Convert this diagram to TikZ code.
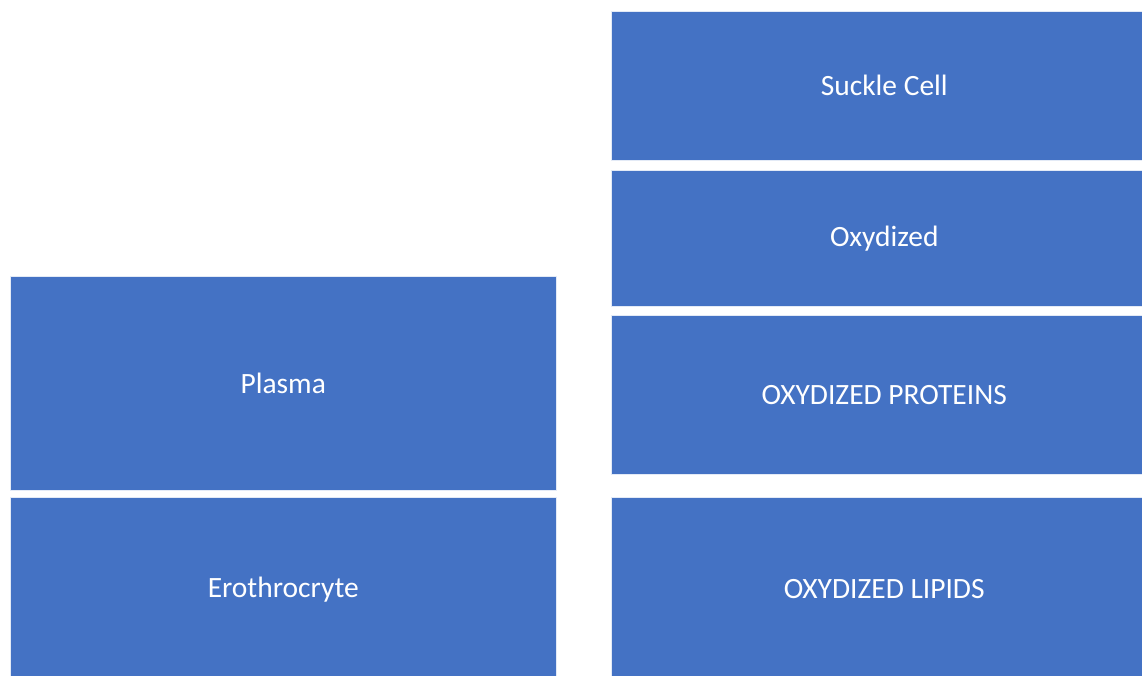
\documentclass[tikz,border=0pt]{standalone}
\usepackage{fontspec}
\setmainfont{Carlito}
\usepackage{xcolor}
\usepackage{tikz}
\usetikzlibrary{positioning}
\definecolor{boxblue}{HTML}{4472C4}

\begin{document}
\begin{tikzpicture}[
        x=0.75pt, y=-0.75pt,
        every node/.style={font=\fontsize{22.1}{26}\selectfont},
        block/.style={rectangle, fill=boxblue, draw=white!85!boxblue, line width=0.4pt, text=white, inner sep=0pt, anchor=north west, minimum width=409.5pt},
    ]
        \useasboundingbox (0,0) rectangle (1142,675);
        % Left column
        \node[block, minimum height=160.5pt] (plasma) at (10,276) {Plasma};
        \node[block, minimum height=138pt] (erythro) at (10,497) {Erothrocryte};
        % Right column
        \node[block, minimum height=111.75pt] (sickle) at (611,11) {Suckle Cell};
        \node[block, minimum height=102pt] (oxy) at (611,170) {Oxydized};
        \node[block, minimum height=119.25pt] (proteins) at (611,315) {OXYDIZED PROTEINS};
        \node[block, minimum height=138pt] (lipids) at (611,497) {OXYDIZED LIPIDS};
    \end{tikzpicture}
\end{document}
